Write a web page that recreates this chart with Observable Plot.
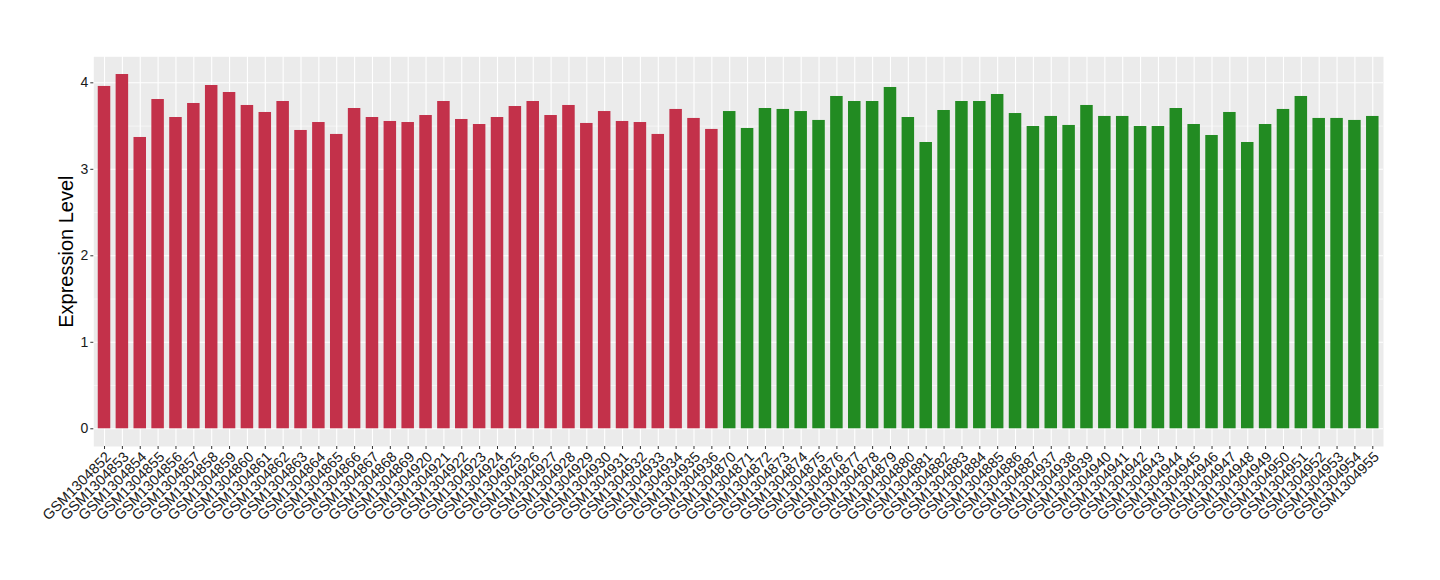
<!DOCTYPE html>
<html>
<head>
<meta charset="utf-8">
<script src="https://cdn.jsdelivr.net/npm/d3@7"></script>
<script src="https://cdn.jsdelivr.net/npm/@observablehq/plot@0.6"></script>
<style>
  html, body { margin: 0; padding: 0; background: #fff; }
  #chart { width: 1440px; height: 580px; }
</style>
</head>
<body>
<div id="chart"></div>
<script>
const samples = [
  "GSM1304852","GSM1304853","GSM1304854","GSM1304855","GSM1304856","GSM1304857",
  "GSM1304858","GSM1304859","GSM1304860","GSM1304861","GSM1304862","GSM1304863",
  "GSM1304864","GSM1304865","GSM1304866","GSM1304867","GSM1304868","GSM1304869",
  "GSM1304920","GSM1304921","GSM1304922","GSM1304923","GSM1304924","GSM1304925",
  "GSM1304926","GSM1304927","GSM1304928","GSM1304929","GSM1304930","GSM1304931",
  "GSM1304932","GSM1304933","GSM1304934","GSM1304935","GSM1304936",
  "GSM1304870","GSM1304871","GSM1304872","GSM1304873","GSM1304874","GSM1304875",
  "GSM1304876","GSM1304877","GSM1304878","GSM1304879","GSM1304880","GSM1304881",
  "GSM1304882","GSM1304883","GSM1304884","GSM1304885","GSM1304886","GSM1304887",
  "GSM1304937","GSM1304938","GSM1304939","GSM1304940","GSM1304941","GSM1304942",
  "GSM1304943","GSM1304944","GSM1304945","GSM1304946","GSM1304947","GSM1304948",
  "GSM1304949","GSM1304950","GSM1304951","GSM1304952","GSM1304953","GSM1304954",
  "GSM1304955"
];
const values = [
  3.958, 4.096, 3.368, 3.807, 3.599, 3.761,
  3.969, 3.888, 3.738, 3.657, 3.784, 3.449,
  3.541, 3.403, 3.703, 3.599, 3.553, 3.541,
  3.622, 3.784, 3.576, 3.518, 3.599, 3.726,
  3.784, 3.622, 3.738, 3.530, 3.668, 3.553,
  3.541, 3.403, 3.692, 3.588, 3.461,
  3.668, 3.472, 3.703, 3.692, 3.668, 3.565,
  3.842, 3.784, 3.784, 3.946, 3.599, 3.310,
  3.680, 3.784, 3.784, 3.865, 3.645, 3.495,
  3.611, 3.507, 3.738, 3.611, 3.611, 3.495,
  3.495, 3.703, 3.518, 3.391, 3.657, 3.310,
  3.518, 3.692, 3.842, 3.588, 3.588, 3.565,
  3.611
];
const groupSizes = [35, 37];
const groupNames = ["group1", "group2"];
const groupColors = ["#C3314A", "#228B22"];
const yTicks = [0, 1, 2, 3, 4];
const yMinor = [0.5, 1.5, 2.5, 3.5];
const yLabel = "Expression Level";

const groups = [];
groupSizes.forEach((n, gi) => { for (let k = 0; k < n; k++) groups.push(groupNames[gi]); });
const data = samples.map((s, i) => ({sample: s, value: values[i], group: groups[i]}));

const maxV = d3.max(values);
const pad = maxV * 0.05;

const chart = Plot.plot({
  width: 1440,
  height: 580,
  marginLeft: 93.3,
  marginRight: 57,
  marginTop: 56.3,
  marginBottom: 134,
  style: {fontFamily: "'Liberation Sans', Arial, Helvetica, sans-serif", fontSize: "14px", background: "#fff"},
  x: {type: "band", domain: samples, paddingInner: 0.3, paddingOuter: 0.25, round: false},
  y: {domain: [-pad, maxV + pad]},
  color: {domain: groupNames, range: groupColors},
  marks: [
    Plot.frame({fill: "#EBEBEB", stroke: null}),
    Plot.ruleY(yMinor, {stroke: "#fff", strokeWidth: 0.55}),
    Plot.ruleY(yTicks, {stroke: "#fff", strokeWidth: 1.1}),
    Plot.ruleX(samples, {x: d => d, stroke: "#fff", strokeWidth: 1.1}),
    Plot.barY(data, {x: "sample", y: "value", fill: "group"}),
    Plot.axisY({ticks: yTicks, tickFormat: () => "", tickSize: 3, stroke: "#333", label: null}),
    Plot.axisX({tickFormat: () => "", tickSize: 3, stroke: "#333", label: null}),
    Plot.text(yTicks, {y: d => d, frameAnchor: "left", textAnchor: "end", dx: -5.5, fontSize: 14, fill: "#1a1a1a", text: d => String(d)}),
    Plot.text(samples, {x: d => d, frameAnchor: "bottom", textAnchor: "end", lineAnchor: "top", rotate: -45, dy: 4, fontSize: 14.5, fill: "#1a1a1a", text: d => d}),
    Plot.text([yLabel], {frameAnchor: "left", textAnchor: "middle", rotate: -90, dx: -27, fontSize: 20, fill: "#000", text: d => d})
  ]
});
document.getElementById("chart").appendChild(chart);
</script>
</body>
</html>
